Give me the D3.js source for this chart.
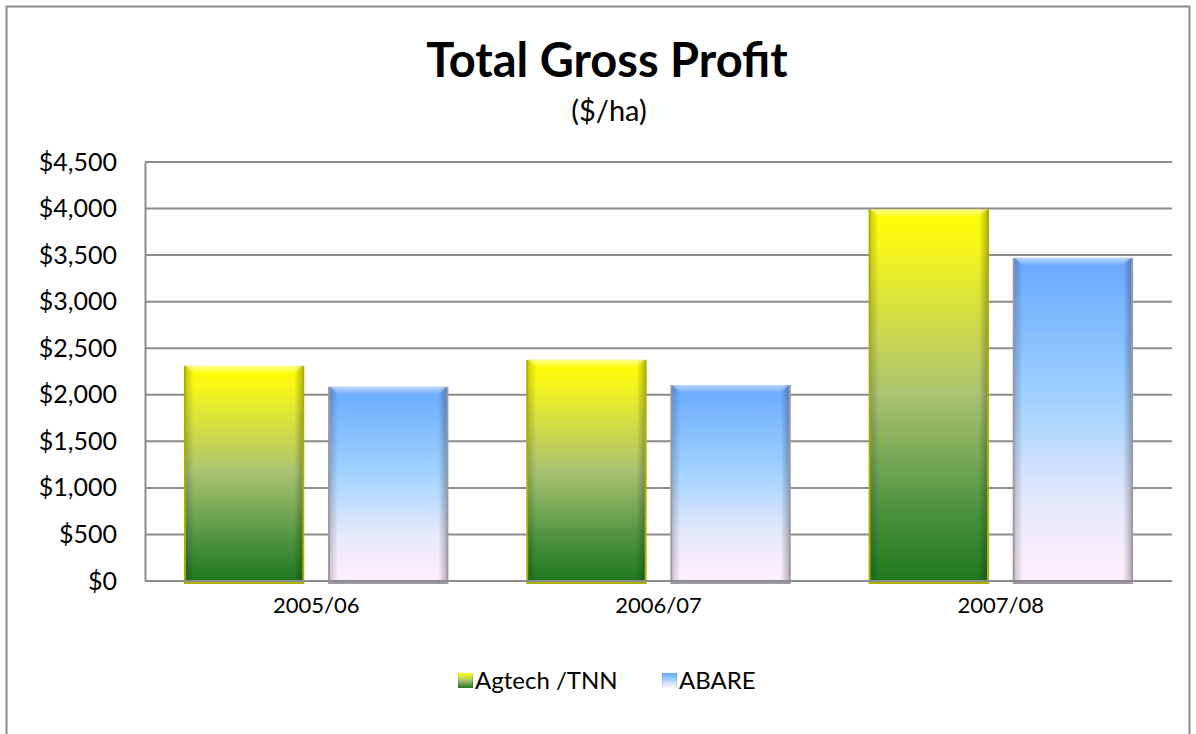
<!DOCTYPE html>
<html><head><meta charset="utf-8">
<script src="https://cdn.jsdelivr.net/npm/d3@7"></script>
<style>body{margin:0;background:#fff;}svg{display:block;font-family:Lato,"Open Sans",sans-serif;}</style>
</head><body><svg id="c" width="1196" height="734"></svg>
<script>
const categories = ["2005/06", "2006/07", "2007/08"];
const seriesNames = ["Agtech /TNN", "ABARE"];
const agtech = [2310, 2375, 3990];
const abare = [2085, 2105, 3470];
const yTicks = [0, 500, 1000, 1500, 2000, 2500, 3000, 3500, 4000, 4500];

const svg = d3.select("#c");
const m = {left: 145, right: 1172, top: 162, bottom: 581};
const FONT = "Lato,'Open Sans',sans-serif";

const defs = svg.append("defs");
function vgrad(id, stops) {
  const g = defs.append("linearGradient").attr("id", id).attr("x1", 0).attr("y1", 0).attr("x2", 0).attr("y2", 1);
  stops.forEach(s => g.append("stop").attr("offset", s[0]).attr("stop-color", s[1]));
}
vgrad("gAg", [[0, "#ffff00"], [0.1, "#f6f61a"], [0.5, "#a9c271"], [0.8, "#4f9440"], [1, "#1f771f"]]);
vgrad("gAb", [[0, "#68a8ff"], [0.45, "#a2d3ff"], [0.75, "#e4e8fc"], [1, "#fff0fb"]]);
const sg = defs.append("linearGradient").attr("id", "side").attr("x1", 0).attr("y1", 0).attr("x2", 1).attr("y2", 0);
[[0, "rgba(0,0,0,0.18)"], [0.07, "rgba(0,0,0,0.0)"], [0.93, "rgba(0,0,0,0.0)"], [1, "rgba(0,0,0,0.25)"]]
  .forEach(s => sg.append("stop").attr("offset", s[0]).attr("stop-color", s[1]));
const tg = defs.append("linearGradient").attr("id", "topHl").attr("x1", 0).attr("y1", 0).attr("x2", 0).attr("y2", 1);
[[0, "rgba(255,255,255,0.55)"], [1, "rgba(255,255,255,0)"]].forEach(s => tg.append("stop").attr("offset", s[0]).attr("stop-color", s[1]));

svg.append("rect").attr("x", 6.5).attr("y", 6.5).attr("width", 1183).attr("height", 740)
  .attr("fill", "#fff").attr("stroke", "#8c8c8c").attr("stroke-width", 2);

svg.append("text").attr("x", 607).attr("y", 77).attr("text-anchor", "middle")
  .attr("font-size", 47).attr("font-weight", "bold").attr("fill", "#000").text("Total Gross Profit");
svg.append("text").attr("x", 609).attr("y", 121).attr("text-anchor", "middle")
  .attr("font-size", 29).attr("fill", "#000").text("($/ha)");

const y = d3.scaleLinear().domain([0, 4500]).range([m.bottom, m.top]);
const x = d3.scaleBand().domain(categories).range([m.left, m.right]).paddingInner(0).paddingOuter(0);
const xs = d3.scaleBand().domain(seriesNames).range([0, x.bandwidth()]).paddingInner(0.165).paddingOuter(0.27);

svg.append("g").selectAll("line").data(yTicks).join("line")
  .attr("x1", m.left).attr("x2", m.right).attr("y1", d => y(d)).attr("y2", d => y(d))
  .attr("stroke", "#8c8c8c").attr("stroke-width", 2);

const yAxis = svg.append("g").attr("transform", `translate(${m.left},0)`)
  .call(d3.axisLeft(y).tickValues(yTicks).tickSize(0).tickPadding(28).tickFormat(d => "$" + d3.format(",")(d)));
yAxis.select(".domain").attr("stroke", "#8c8c8c").attr("stroke-width", 2);
yAxis.selectAll("text").attr("font-size", 25).attr("fill", "#000").attr("font-family", FONT);

const xAxis = svg.append("g").attr("transform", `translate(0,${m.bottom})`)
  .call(d3.axisBottom(x).tickSize(0).tickPadding(16));
xAxis.select(".domain").remove();
xAxis.selectAll("text").attr("font-size", 22).attr("fill", "#000").attr("font-family", FONT);

const data = [];
categories.forEach((c, i) => {
  data.push({cat: c, s: seriesNames[0], v: agtech[i], fill: "url(#gAg)", edge: "#aab000"});
  data.push({cat: c, s: seriesNames[1], v: abare[i], fill: "url(#gAb)", edge: "#9f97a6"});
});

const bars = svg.append("g").selectAll("g").data(data).join("g")
  .attr("transform", d => `translate(${x(d.cat) + xs(d.s)},0)`);
const bw = xs.bandwidth();
bars.append("rect").attr("x", 0).attr("y", d => y(d.v)).attr("width", bw)
  .attr("height", d => y(0) - y(d.v) + 3).attr("fill", d => d.edge);
bars.append("rect").attr("x", 2).attr("y", d => y(d.v)).attr("width", bw - 4)
  .attr("height", d => y(0) - y(d.v)).attr("fill", d => d.fill);
bars.append("rect").attr("x", 2).attr("y", d => y(d.v)).attr("width", bw - 4)
  .attr("height", d => y(0) - y(d.v)).attr("fill", "url(#side)");
bars.append("path")
  .attr("d", d => `M2,${y(d.v)} L${bw - 2},${y(d.v)} L${bw - 10},${y(d.v) + 8} L10,${y(d.v) + 8} Z`)
  .attr("fill", "url(#topHl)");
svg.append("line").attr("x1", m.left).attr("x2", m.right).attr("y1", y(0)).attr("y2", y(0))
  .attr("stroke", "#8c8c8c").attr("stroke-width", 2);

const legend = [{name: seriesNames[0], fill: "url(#gAg)", x: 458}, {name: seriesNames[1], fill: "url(#gAb)", x: 662}];
const lg = svg.append("g").selectAll("g").data(legend).join("g").attr("transform", d => `translate(${d.x},673)`);
lg.append("rect").attr("width", 15).attr("height", 15).attr("fill", d => d.fill);
lg.append("rect").attr("width", 15).attr("height", 15).attr("fill", "url(#side)");
lg.append("text").attr("x", 17).attr("y", 16).attr("font-size", 24).attr("fill", "#000").text(d => d.name);
</script></body></html>
